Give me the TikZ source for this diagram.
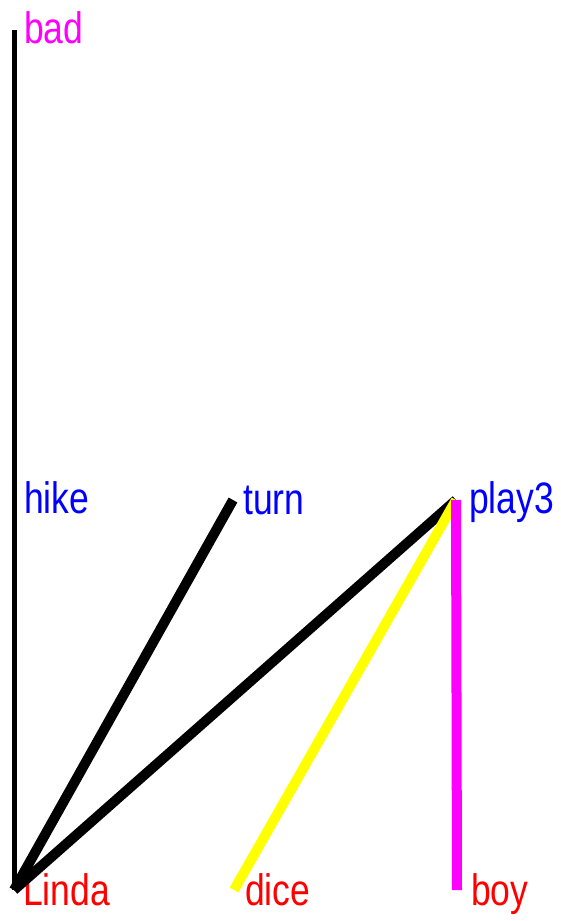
\documentclass[tikz,border=0pt]{standalone}
\usepackage{graphicx}
\usepackage{fontspec}
\setmainfont{Liberation Sans}
\usepackage{tikz}
\usetikzlibrary{positioning,calc}
\definecolor{wmagenta}{RGB}{255,0,255}
\definecolor{wblue}{RGB}{0,0,255}
\definecolor{wred}{RGB}{255,0,0}
\definecolor{wyellow}{RGB}{255,255,0}
\newcommand{\wlab}[1]{\scalebox{1}[1.24]{#1}}

\begin{document}
\begin{tikzpicture}[
		x=1pt, y=-1pt,
		wordlab/.style={anchor=base west, inner sep=0pt, font=\fontsize{35.5}{38}\selectfont},
		toplab/.style={wordlab, text=wblue},
		botlab/.style={wordlab, text=wred},
		thinlink/.style={draw=black, line width=5pt},
		thicklink/.style={line width=10pt}
		]
		\useasboundingbox (0,0) rectangle (560,921);
		
		% word positions
		\coordinate (bad) at (14,30);
		\coordinate (hike) at (14,500);
		\coordinate (turn) at (233,500);
		\coordinate (play3) at (456,500);
		\coordinate (Linda) at (14,890);
		\coordinate (dice) at (234,890);
		\coordinate (boy) at (457,890);
		
		% labels
		\node[wordlab, text=wmagenta] (badlab) at ($(bad)+(10,13)$) {\wlab{bad}};
		\node[toplab] (hikelab) at ($(hike)+(10,13)$) {\wlab{hike}};
		\node[toplab] (turnlab) at ($(turn)+(10,14)$) {\wlab{turn}};
		\node[toplab] (play3lab) at ($(play3)+(13,13)$) {\wlab{play3}};
		\node[botlab] (Lindalab) at ($(Linda)+(9,15)$) {\wlab{Linda}};
		\node[botlab] (dicelab) at ($(dice)+(11,15)$) {\wlab{dice}};
		\node[botlab] (boylab) at ($(boy)+(14,15)$) {\wlab{boy}};
		
		% links
		\draw[thinlink] (Linda) -- (bad);
		\draw[thicklink, black] (Linda) -- (turn);
		\draw[thicklink, black] (Linda) -- (play3);
		\draw[thicklink, wyellow] (dice) -- (play3);
		\draw[thicklink, wmagenta] (boy) -- (play3);
		
	\end{tikzpicture}
\end{document}
